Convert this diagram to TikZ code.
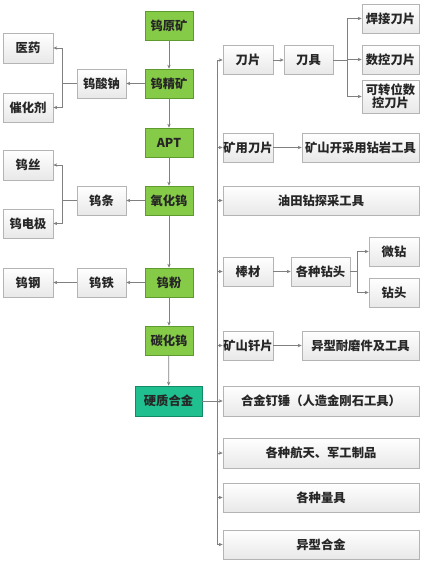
\documentclass[tikz,border=0pt]{standalone}
\usepackage{fontspec}
\setmainfont{Noto Sans CJK SC}
\usetikzlibrary{arrows.meta,shadows}
\definecolor{gfill}{HTML}{86CB47}
\definecolor{gdraw}{HTML}{5E9A2E}
\definecolor{tfill}{HTML}{1FBF8F}
\definecolor{tdraw}{HTML}{128A66}
\definecolor{bdraw}{HTML}{B4B4B4}
\definecolor{lcol}{HTML}{808080}
\tikzset{
  base/.style={inner sep=0pt, align=center, font=\fontsize{12.3}{13.5}\selectfont\bfseries, text=black!85,
    drop shadow={opacity=0.25, shadow xshift=0.8pt, shadow yshift=-0.8pt}},
  gbox/.style={base, fill=gfill, draw=gdraw, line width=0.6pt},
  tbox/.style={base, fill=tfill, draw=tdraw, line width=0.6pt},
  wbox/.style={base, top color=white, bottom color=black!9, draw=bdraw, line width=0.6pt},
  conn/.style={draw=lcol, line width=0.75pt},
  arr/.style={conn, -{Stealth[length=4pt,width=3.4pt]}},
}
\newcommand{\bx}[6]{\node[#1, minimum width=#4pt, minimum height=#5pt] (#2) at (#3) {#6};}
\begin{document}
\begin{tikzpicture}[x=1pt,y=-1pt]
\useasboundingbox[fill=white] (0,0) rectangle (427,563);
% green column
\bx{gbox}{yyk}{169,25.5}{48}{29}{钨原矿}
\bx{gbox}{jjk}{169,83.5}{48}{29}{钨精矿}
\bx{gbox}{apt}{169,142.5}{48}{29}{APT}
\bx{gbox}{yhw}{169,200.5}{48}{29}{氧化钨}
\bx{gbox}{wf}{169,282.5}{48}{29}{钨粉}
\bx{gbox}{thw}{169,340.5}{48}{29}{碳化钨}
\bx{tbox}{yzhj}{168.5,401}{67}{30}{硬质合金}
% left
\bx{wbox}{yy}{28,48}{50}{30}{医药}
\bx{wbox}{chj}{28,107.5}{50}{29}{催化剂}
\bx{wbox}{wsn}{101.5,83.5}{49}{29}{钨酸钠}
\bx{wbox}{ws}{28,165}{50}{30}{钨丝}
\bx{wbox}{wt}{101.5,200.5}{49}{29}{钨条}
\bx{wbox}{wdj}{28,223.5}{50}{29}{钨电极}
\bx{wbox}{wg}{28,282.5}{50}{29}{钨钢}
\bx{wbox}{wtie}{101.5,282.5}{49}{29}{钨铁}
% right
\bx{wbox}{dp}{248,60}{50}{29}{刀片}
\bx{wbox}{dj}{308.5,60}{49}{29}{刀具}
\bx{wbox}{hj}{390.5,18.5}{57}{29}{焊接刀片}
\bx{wbox}{sk}{390.5,59.5}{57}{29}{数控刀片}
\bx{wbox}{kzw}{390.5,96.5}{57}{33}{可转位数\\控刀片}
\bx{wbox}{kydp}{248,147.5}{50}{29}{矿用刀片}
\bx{wbox}{kskc}{360.5,147.5}{117}{29}{矿山开采用钻岩工具}
\bx{wbox}{yt}{321,200.5}{196}{29}{油田钻探采工具}
\bx{wbox}{bc}{248,271.5}{50}{29}{棒材}
\bx{wbox}{gzzt}{320.5,271.5}{59}{29}{各种钻头}
\bx{wbox}{wz}{394,251.5}{50}{29}{微钻}
\bx{wbox}{zt}{394,292.5}{50}{29}{钻头}
\bx{wbox}{ksqp}{248,345.5}{50}{29}{矿山钎片}
\bx{wbox}{yxnm}{360.5,345.5}{117}{29}{异型耐磨件及工具}
\bx{wbox}{hjdc}{321,401}{196}{30}{合金钉锤（人造金刚石工具）}
\bx{wbox}{hkjg}{321,453}{196}{30}{各种航天、军工制品}
\bx{wbox}{lj}{321,497.5}{196}{29}{各种量具}
\bx{wbox}{yxhj}{321,544.5}{196}{29}{异型合金}
% main chain
\draw[arr] (yyk) -- (jjk);
\draw[arr] (jjk) -- (apt);
\draw[arr] (apt) -- (yhw);
\draw[arr] (yhw) -- (wf);
\draw[arr] (wf) -- (thw);
\draw[arr] (thw) -- (yzhj);
% left branches
\draw[arr] (jjk) -- (wsn);
\coordinate (l1) at (62,83.5);
\draw[conn] (wsn.west) -- (l1);
\draw[arr] (l1) |- (yy);
\draw[arr] (l1) |- (chj);
\draw[arr] (yhw) -- (wt);
\coordinate (l2) at (62,200.5);
\draw[conn] (wt.west) -- (l2);
\draw[arr] (l2) |- (ws);
\draw[arr] (l2) |- (wdj);
\draw[arr] (wf) -- (wtie);
\draw[arr] (wtie) -- (wg);
% trunk
\coordinate (ttop) at (217,60);
\coordinate (tbot) at (217,544.5);
\draw[conn] (ttop) -- (tbot);
\draw[arr] (yzhj) -- (hjdc);
\foreach \n in {dp,kydp,yt,bc,ksqp,hkjg,lj,yxhj}{
  \draw[arr] (217,0 |- \n.west) -- (\n.west);
}
% second level
\draw[arr] (dp) -- (dj);
\coordinate (r1) at (347,60);
\draw[conn] (dj.east) -- (r1);
\draw[arr] (r1) |- (hj);
\draw[arr] (r1) |- (sk);
\draw[arr] (r1) |- (kzw);
\draw[arr] (kydp) -- (kskc);
\draw[arr] (bc) -- (gzzt);
\coordinate (r2) at (357,271.5);
\draw[conn] (gzzt.east) -- (r2);
\draw[arr] (r2) |- (wz);
\draw[arr] (r2) |- (zt);
\draw[arr] (ksqp) -- (yxnm);
\end{tikzpicture}
\end{document}
